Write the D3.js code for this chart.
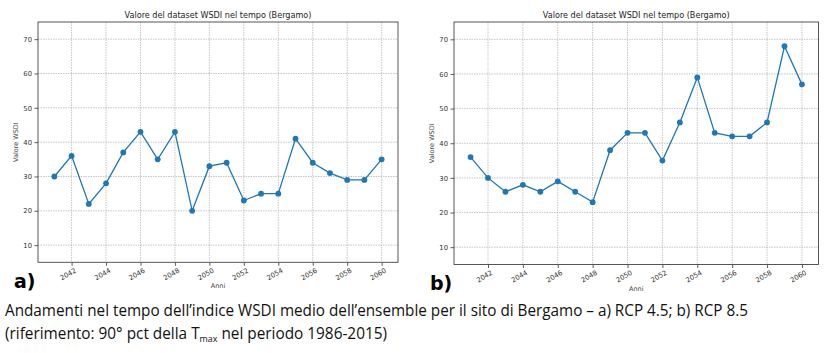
<!DOCTYPE html>
<html><head><meta charset="utf-8">
<script src="https://cdn.jsdelivr.net/npm/d3@7"></script>
<style>
body{margin:0;background:#fff;}
svg{display:block;}
text{font-family:"DejaVu Sans",sans-serif;}
</style></head>
<body>
<svg id="chart" width="825" height="353"></svg>
<script>
const years = [2041,2042,2043,2044,2045,2046,2047,2048,2049,2050,2051,2052,2053,2054,2055,2056,2057,2058,2059,2060];
const wsdiRcp45 = [30,36,22,28,37,43,35,43,20,33,34,23,25,25,41,34,31,29,29,35];
const wsdiRcp85 = [36,30,26,28,26,29,26,23,38,43,43,35,46,59,43,42,42,46,68,57];
const xTicks = [2042,2044,2046,2048,2050,2052,2054,2056,2058,2060];
const yTicks = [10,20,30,40,50,60,70];
const chartTitle = "Valore del dataset WSDI nel tempo (Bergamo)";
const panelLabels = ["a)","b)"];
const captionLine1 = "Andamenti nel tempo dell\u2019indice WSDI medio dell\u2019ensemble per il sito di Bergamo \u2013 a) RCP 4.5; b) RCP 8.5";

const svg = d3.select("#chart");
svg.append("rect").attr("width",825).attr("height",353).attr("fill","#fff");

function panel(values, box, label, labelPos, anniY){
  const x = d3.scaleLinear().domain([2040.05, 2060.95]).range([box.l, box.r]);
  const y = d3.scaleLinear().domain([5, 75]).range([box.b, box.t]);
  const g = svg.append("g");
  // grid
  g.selectAll(".gx").data(xTicks).enter().append("line")
    .attr("x1",d=>x(d)).attr("x2",d=>x(d)).attr("y1",box.t).attr("y2",box.b)
    .attr("stroke","#b8b8b8").attr("stroke-width",0.8).attr("stroke-dasharray","1.5,1");
  g.selectAll(".gy").data(yTicks).enter().append("line")
    .attr("y1",d=>y(d)).attr("y2",d=>y(d)).attr("x1",box.l).attr("x2",box.r)
    .attr("stroke","#b8b8b8").attr("stroke-width",0.8).attr("stroke-dasharray","1.5,1");
  // axes
  const ax = g.append("g").attr("transform",`translate(0,${box.b})`)
    .call(d3.axisBottom(x).tickValues(xTicks).tickFormat(d3.format("d")).tickSize(3.5).tickPadding(2));
  ax.selectAll("text").attr("font-size",6.8).attr("fill","#333")
    .attr("text-anchor","end").attr("dy","0.55em")
    .attr("transform","translate(0,1.5) rotate(-30)");
  const ay = g.append("g").attr("transform",`translate(${box.l},0)`)
    .call(d3.axisLeft(y).tickValues(yTicks).tickSize(3.5).tickPadding(2.5));
  ay.selectAll("text").attr("font-size",6.8).attr("fill","#333");
  [ax,ay].forEach(a=>{a.select(".domain").remove(); a.selectAll("line").attr("stroke","#333").attr("stroke-width",0.8);});
  // frame
  g.append("rect").attr("x",box.l).attr("y",box.t).attr("width",box.r-box.l).attr("height",box.b-box.t)
    .attr("fill","none").attr("stroke","#444").attr("stroke-width",0.9);
  // line + points
  const pts = years.map((yr,i)=>[yr, values[i]]);
  g.append("path").datum(pts).attr("fill","none").attr("stroke","#1f77b4").attr("stroke-width",1.3)
    .attr("d", d3.line().x(d=>x(d[0])).y(d=>y(d[1])));
  g.selectAll(".pt").data(pts).enter().append("circle")
    .attr("cx",d=>x(d[0])).attr("cy",d=>y(d[1])).attr("r",2.9).attr("fill","#1f77b4");
  // title
  const cx = (box.l+box.r)/2;
  g.append("text").attr("x",cx).attr("y",18).attr("text-anchor","middle").attr("font-size",8.1).attr("fill","#222").text(chartTitle);
  g.append("text").attr("x",cx).attr("y",anniY).attr("text-anchor","middle").attr("font-size",6.5).attr("fill","#444").text("Anni");
  g.append("text").attr("transform",`translate(${box.l-20},${(box.t+box.b)/2}) rotate(-90)`)
    .attr("text-anchor","middle").attr("font-size",6.5).attr("fill","#444").text("Valore WSDI");
  svg.append("text").attr("x",labelPos[0]).attr("y",labelPos[1]).attr("font-family","Liberation Sans, Arial, sans-serif")
    .attr("font-weight","bold").attr("font-size",19).attr("fill","#000").text(label);
}

panel(wsdiRcp45, {l:38, r:398, t:22, b:262.3}, panelLabels[0], [14,288], 288);
panel(wsdiRcp85, {l:454, r:818.5, t:22, b:264.5}, panelLabels[1], [430,290], 291);

// caption
const cap = svg.append("g").attr("fill","#111");
cap.append("text").attr("x",5).attr("y",316).attr("font-size",15.5)
  .attr("textLength",743).attr("lengthAdjust","spacingAndGlyphs").style("font-family","'Open Sans', sans-serif").text(captionLine1);
const l2 = cap.append("text").attr("x",5).attr("y",338.5).attr("font-size",15.5)
  .attr("textLength",382).attr("lengthAdjust","spacingAndGlyphs").style("font-family","'Open Sans', sans-serif");
l2.append("tspan").text("(riferimento: 90\u00b0 pct della T");
l2.append("tspan").attr("font-size",9).attr("dy",3).text("max");
l2.append("tspan").attr("dy",-3).text(" nel periodo 1986-2015)");
</script>
</body></html>
